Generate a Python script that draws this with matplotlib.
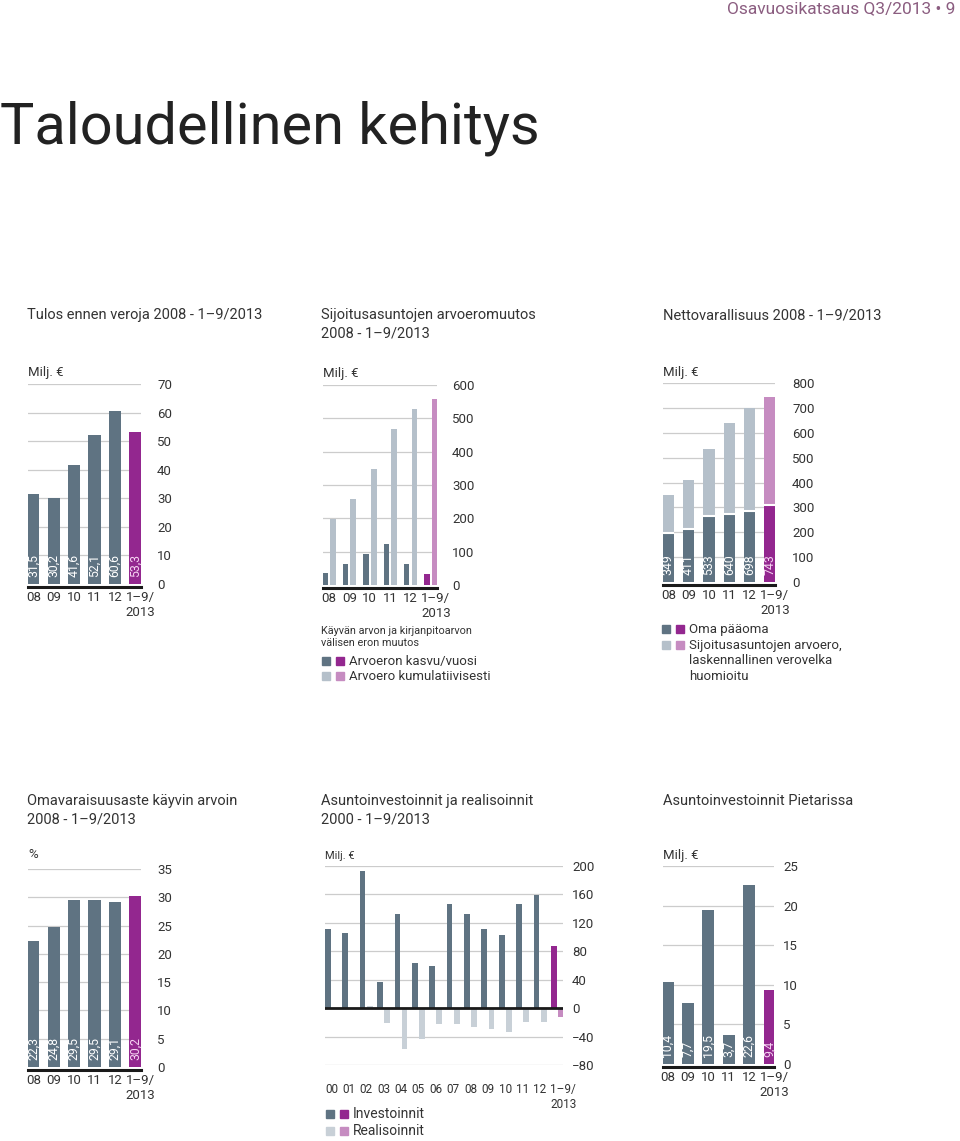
import numpy as np
import matplotlib.pyplot as plt
from matplotlib.patches import Rectangle
from matplotlib.transforms import ScaledTranslation

plt.rcParams['font.family'] = ['Roboto', 'DejaVu Sans']

W, H = 960, 1141

DARK = '#5f7382'
LIGHT = '#b5c0ca'
PURPLE = '#93278f'
PINK = '#c68cc1'
GRID = '#cccccc'
TEXT = '#333333'

# data
years = ['08', '09', '10', '11', '12', '1–9/\n2013']
tulos = [31.5, 30.2, 41.6, 52.1, 60.6, 53.3]

arvo_kasvu = [36, 62, 92, 122, 62, 32]
arvo_kum = [197, 258, 348, 469, 528, 557]

oma_paaoma = [198, 213, 267, 275, 287, 310]
netto = [349, 411, 533, 640, 698, 743]

omavar = [22.3, 24.8, 29.5, 29.5, 29.1, 30.2]

inv_years = ['00', '01', '02', '03', '04', '05', '06', '07', '08', '09', '10',
             '11', '12', '1–9/\n2013']
investoinnit = [111, 106, 193, 37, 132, 64, 59, 147, 132, 111, 103, 147, 159, 87]
realisoinnit = [-1, -1, 3, -21, -57, -43, -23, -23, -26, -29, -34, -19, -20, -12]

pietari = [10.4, 7.7, 19.5, 3.7, 22.6, 9.4]

fig = plt.figure(figsize=(W / 100, H / 100), dpi=100)


def ftext(x, y, s, size=10.5, **kw):
    kw.setdefault('color', TEXT)
    kw.setdefault('va', 'center')
    fig.text(x / W, 1 - y / H, s, fontsize=size, **kw)


def legend_row(x, y, colors, s, size=9.5):
    for i, c in enumerate(colors):
        fig.add_artist(Rectangle(((x + i * 14) / W, 1 - (y + 4) / H), 8 / W, 8 / H,
                                 color=c, transform=fig.transFigure))
    ftext(x + 27, y, s, size=size)


def make_ax(l, t, r, b, ylim, yticks, xlim, pad, baseline=True):
    ax = fig.add_axes([l / W, 1 - b / H, (r - l) / W, (b - t) / H])
    ax.set_xlim(*xlim)
    ax.set_ylim(*ylim)
    ax.set_yticks(yticks)
    ax.yaxis.tick_right()
    ax.tick_params(axis='y', length=0, pad=pad * 0.72, labelsize=9.5, labelcolor=TEXT)
    ax.tick_params(axis='x', length=0, pad=3, labelsize=9.5, labelcolor=TEXT)
    for s in ax.spines.values():
        s.set_visible(False)
    ax.grid(axis='y', color=GRID, lw=0.9)
    ax.set_axisbelow(True)
    ax.patch.set_alpha(0)
    if baseline:
        ax.spines['bottom'].set_visible(True)
        ax.spines['bottom'].set_color('#1a1a1a')
        ax.spines['bottom'].set_linewidth(2.2)
        ax.spines['bottom'].set_position(('outward', 2))
    return ax


def set_xlabels(ax, xs, labels, shift=5):
    ax.set_xticks(xs, labels)
    last = ax.get_xticklabels()[-1]
    last.set_transform(last.get_transform() + ScaledTranslation(shift / 100, 0, fig.dpi_scale_trans))


def bar_labels(ax, xs, vals, fmt, colors):
    for x, v, c in zip(xs, vals, colors):
        ax.annotate(fmt(v), (x, 0), xytext=(0, 5), textcoords='offset points',
                    rotation=90, ha='center', va='bottom', fontsize=8.8, color=c)


comma = lambda v: f'{v:.1f}'.replace('.', ',')
six_dark = [DARK] * 5 + [PURPLE]
six_light = [LIGHT] * 5 + [PINK]
lab_cols = ['white'] * 5 + ['#f6d3f2']
x6 = np.arange(6)

# header
ftext(955, 9, 'Osavuosikatsaus Q3/2013 • 9', size=12.5, ha='right', color='#8b5d80')
ftext(0, 128, 'Taloudellinen kehitys', size=41.5, color='#222222')

# panel 1
ftext(27, 315, 'Tulos ennen veroja 2008 - 1–9/2013')
ftext(28, 372, 'Milj. €', size=9.5)
ax = make_ax(28, 384, 141, 584, (0, 70), range(0, 71, 10), (-0.26, 5.28), 16)
ax.bar(x6, tulos, 0.59, color=six_dark)
set_xlabels(ax, x6, years)
bar_labels(ax, x6, tulos, comma, lab_cols)
ax.yaxis.get_gridlines()[0].set_visible(False)

# panel 2
ftext(321, 315, 'Sijoitusasuntojen arvoeromuutos')
ftext(321, 334, '2008 - 1–9/2013')
ftext(323, 373, 'Milj. €', size=9.5)
ax = make_ax(323, 385, 437, 585, (0, 600), range(0, 601, 100), (-0.3, 5.3), 15)
ax.bar(x6 - 0.19, arvo_kasvu, 0.27, color=six_dark)
ax.bar(x6 + 0.19, arvo_kum, 0.28, color=six_light)
set_xlabels(ax, x6, years)
ax.yaxis.get_gridlines()[0].set_visible(False)
ftext(321, 631, 'Käyvän arvon ja kirjanpitoarvon', size=7.8)
ftext(321, 643, 'välisen eron muutos', size=7.8)
legend_row(322, 661, [DARK, PURPLE], 'Arvoeron kasvu/vuosi')
legend_row(322, 676, [LIGHT, PINK], 'Arvoero kumulatiivisesti')

# panel 3
ftext(663, 315, 'Nettovarallisuus 2008 - 1–9/2013')
ftext(663, 372, 'Milj. €', size=9.5)
ax = make_ax(663, 383, 775, 582, (0, 800), range(0, 801, 100), (-0.26, 5.25), 17)
ero = np.array(netto) - np.array(oma_paaoma)
ax.bar(x6, oma_paaoma, 0.55, color=six_dark)
ax.bar(x6, ero, 0.55, bottom=oma_paaoma, color=six_light)
ax.hlines(oma_paaoma, x6 - 0.275, x6 + 0.275, color='white', lw=1.5)
set_xlabels(ax, x6, years)
bar_labels(ax, x6, netto, str, lab_cols)
ax.yaxis.get_gridlines()[0].set_visible(False)
legend_row(662, 629, [DARK, PURPLE], 'Oma pääoma')
legend_row(662, 645, [LIGHT, PINK], 'Sijoitusasuntojen arvoero,')
ftext(689, 661, 'laskennallinen verovelka', size=9.5)
ftext(689, 676, 'huomioitu', size=9.5)

# panel 4
ftext(27, 801, 'Omavaraisuusaste käyvin arvoin')
ftext(27, 820, '2008 - 1–9/2013')
ftext(28, 855, '%', size=9.5)
ax = make_ax(28, 869, 141, 1067, (0, 35), range(0, 36, 5), (-0.26, 5.28), 16)
ax.bar(x6, omavar, 0.59, color=six_dark)
set_xlabels(ax, x6, years)
bar_labels(ax, x6, omavar, comma, lab_cols)
ax.yaxis.get_gridlines()[0].set_visible(False)

# panel 5
ftext(321, 801, 'Asuntoinvestoinnit ja realisoinnit')
ftext(321, 820, '2000 - 1–9/2013')
ftext(325, 856, 'Milj. €', size=8)
x14 = np.arange(14)
ax = make_ax(325, 866, 563, 1065, (-80, 200), range(-80, 201, 40), (-0.37, 13.32), 9,
             baseline=False)
ax.bar(x14 - 0.207, investoinnit, 0.33, color=[DARK] * 13 + [PURPLE])
ax.bar(x14 + 0.207, realisoinnit, 0.33, color=['#c8d0d7'] * 13 + [PINK])
ax.axhline(0, color='#1a1a1a', lw=2)
ax.tick_params(axis='x', labelsize=8.5, pad=13)
set_xlabels(ax, x14, inv_years, shift=6)
legend_row(326, 1114, [DARK, PURPLE], 'Investoinnit', size=10)
legend_row(326, 1131, ['#c8d0d7', PINK], 'Realisoinnit', size=10)

# panel 6
ftext(663, 801, 'Asuntoinvestoinnit Pietarissa')
ftext(663, 856, 'Milj. €', size=9.5)
ax = make_ax(663, 866, 774, 1064, (0, 25), range(0, 26, 5), (-0.23, 5.22), 9)
ax.bar(x6, pietari, 0.59, color=six_dark)
set_xlabels(ax, x6, years)
bar_labels(ax, x6, pietari, comma, lab_cols)
ax.yaxis.get_gridlines()[0].set_visible(False)

fig.savefig('out.png', dpi=100)
